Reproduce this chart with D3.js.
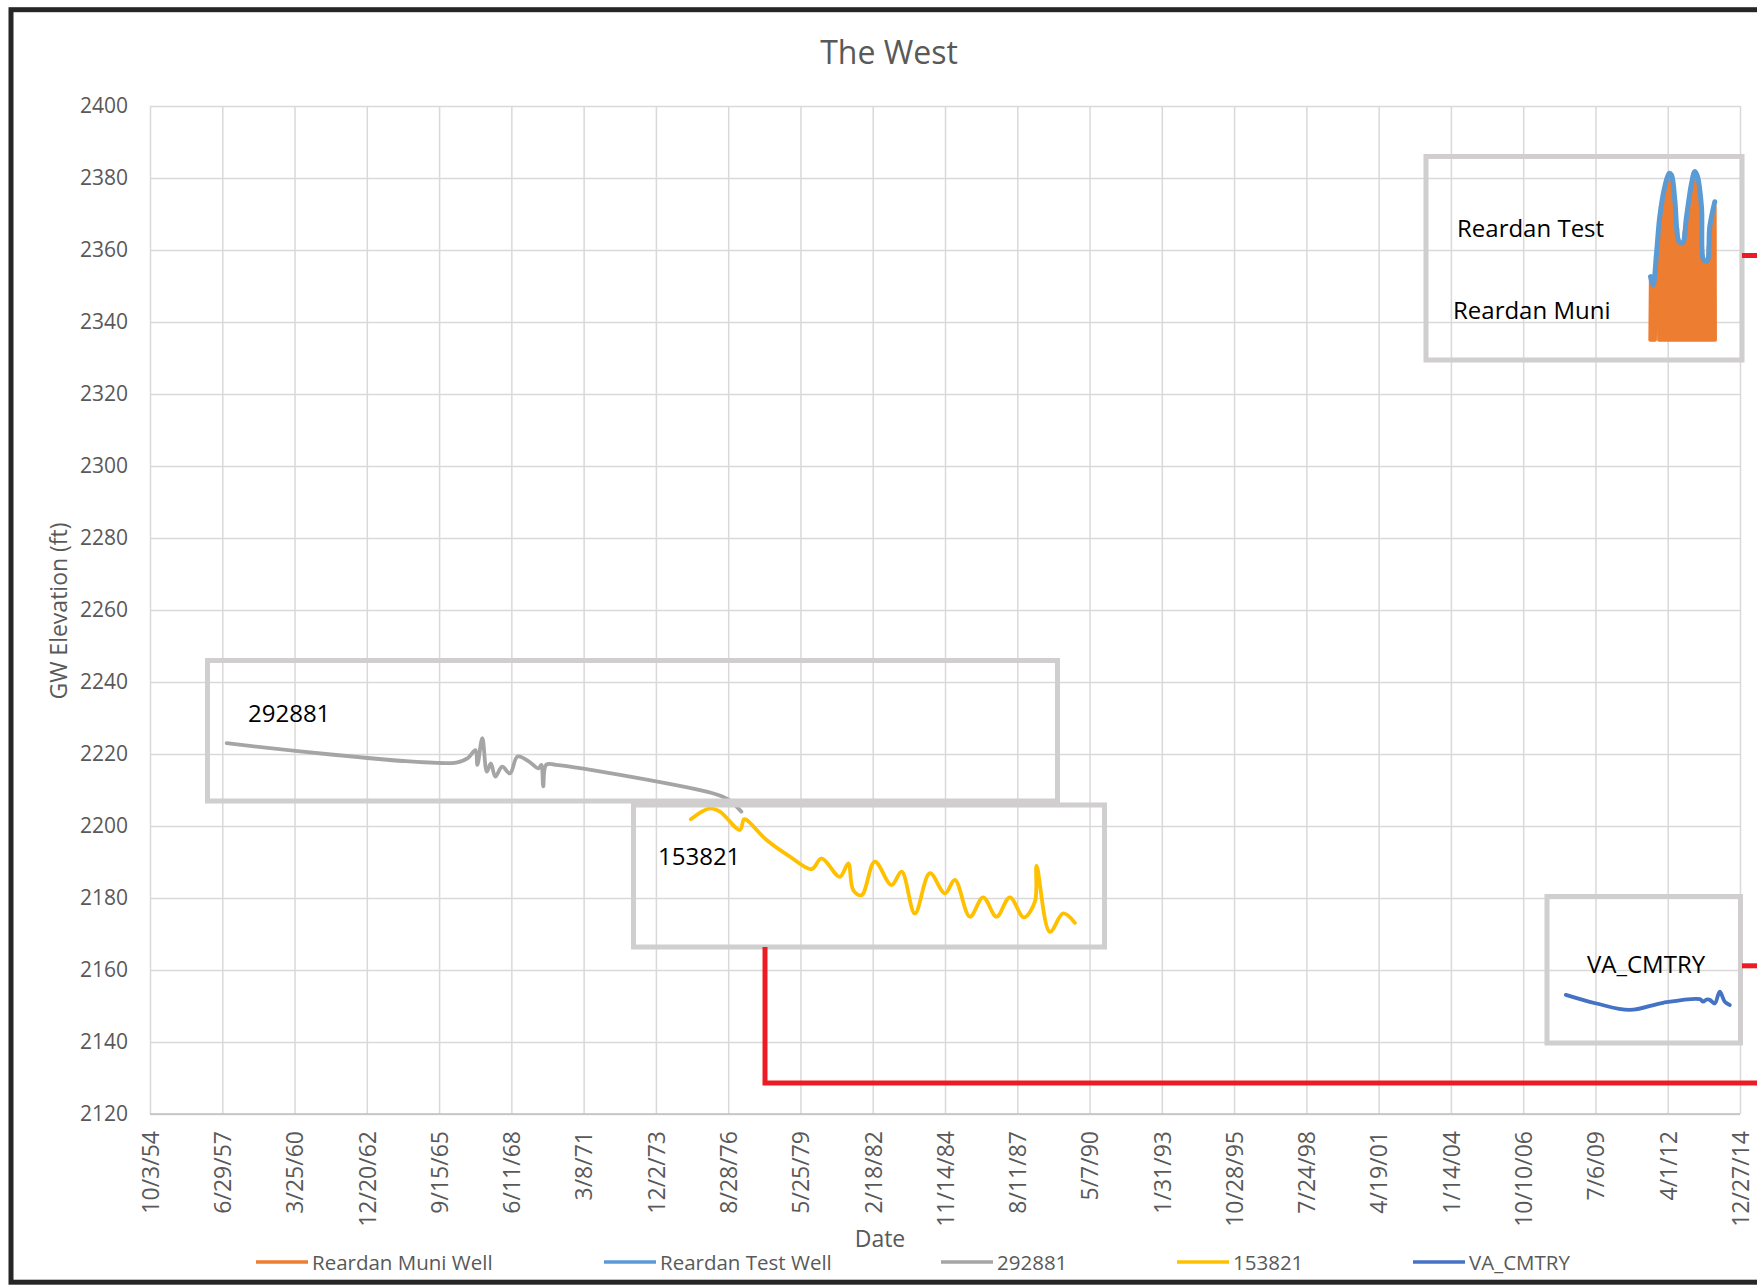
<!DOCTYPE html>
<html>
  <head>
    <meta charset="utf-8">
    <title>The West</title>
    <script src="https://d3js.org/d3.v7.min.js"></script>
    <style>
      body { margin: 0; background: #fff; }
      text { font-family: "Open Sans", sans-serif; }
    </style>
  </head>
  <body>
    <script>
    var w = 1757;
    var h = 1285;

    // axis ticks
    var xTickDates = ["1954-10-03", "1957-06-29", "1960-03-25", "1962-12-20", "1965-09-15",
      "1968-06-11", "1971-03-08", "1973-12-02", "1976-08-28", "1979-05-25", "1982-02-18",
      "1984-11-14", "1987-08-11", "1990-05-07", "1993-01-31", "1995-10-28", "1998-07-24",
      "2001-04-19", "2004-01-14", "2006-10-10", "2009-07-06", "2012-04-01", "2014-12-27"];
    var yTicks = [2120, 2140, 2160, 2180, 2200, 2220, 2240, 2260, 2280, 2300, 2320, 2340, 2360, 2380, 2400];

    var seriesNames = ["Reardan Muni Well", "Reardan Test Well", "292881", "153821", "VA_CMTRY"];
    var seriesColors = ["#ED7D31", "#5B9BD5", "#A5A5A5", "#FFC000", "#4472C4"];

    // readings: [date, GW elevation ft]
    var reardanMuni = [
      ["2011-08-01", 2335], ["2011-08-08", 2352], ["2011-08-18", 2335], ["2011-08-26", 2351.5],
      ["2011-09-05", 2335], ["2011-09-14", 2350], ["2011-09-24", 2335], ["2011-10-04", 2351],
      ["2011-10-10", 2335], ["2011-10-30", 2358], ["2011-11-20", 2364],
      ["2011-12-01", 2335], ["2011-12-15", 2368], ["2012-01-01", 2335], ["2012-01-15", 2373],
      ["2012-02-01", 2335], ["2012-02-15", 2376], ["2012-03-01", 2335], ["2012-03-15", 2378.5],
      ["2012-04-01", 2335], ["2012-04-15", 2380], ["2012-05-01", 2335], ["2012-05-15", 2380],
      ["2012-06-01", 2335], ["2012-06-15", 2376.5], ["2012-07-01", 2335], ["2012-07-15", 2372],
      ["2012-08-01", 2335], ["2012-08-15", 2366], ["2012-09-01", 2335], ["2012-09-15", 2361],
      ["2012-10-01", 2335], ["2012-10-15", 2361], ["2012-11-01", 2335], ["2012-11-15", 2365],
      ["2012-12-01", 2335], ["2012-12-15", 2368], ["2013-01-01", 2335], ["2013-01-15", 2373],
      ["2013-02-01", 2335], ["2013-02-15", 2377], ["2013-03-01", 2335], ["2013-03-15", 2379.5],
      ["2013-04-01", 2335], ["2013-04-15", 2380.5], ["2013-05-01", 2335], ["2013-05-15", 2379.5],
      ["2013-06-01", 2335], ["2013-06-15", 2375], ["2013-07-01", 2335], ["2013-07-15", 2370],
      ["2013-08-01", 2335], ["2013-08-15", 2356], ["2013-09-01", 2335], ["2013-09-15", 2356.5],
      ["2013-10-01", 2335], ["2013-10-15", 2361], ["2013-11-01", 2335], ["2013-11-15", 2366],
      ["2013-12-01", 2335], ["2013-12-15", 2370], ["2014-01-01", 2335], ["2014-01-14", 2372],
      ["2014-01-18", 2335]
    ];

    var reardanTest = [
      ["2011-08-07", 2352.6], ["2011-09-12", 2350.3], ["2011-10-29", 2359.1], ["2011-12-13", 2369.3],
      ["2012-02-21", 2377.6], ["2012-04-20", 2381.3], ["2012-05-23", 2380.8], ["2012-07-08", 2373.9],
      ["2012-09-06", 2362.3], ["2012-10-23", 2362.0], ["2012-12-17", 2369.3], ["2013-02-24", 2378.5],
      ["2013-04-11", 2381.8], ["2013-05-18", 2380.4], ["2013-07-12", 2372.0], ["2013-08-13", 2357.2],
      ["2013-09-28", 2357.0], ["2013-11-04", 2366.5], ["2014-01-12", 2373.4]
    ];

    var well292881 = [
      ["1957-08-29", 2223.0], ["1966-05-11", 2217.6], ["1966-10-19", 2218.9], ["1967-02-01", 2221.1],
      ["1967-02-27", 2217.0], ["1967-05-06", 2224.4], ["1967-07-08", 2215.1], ["1967-09-01", 2217.4],
      ["1967-11-02", 2213.7], ["1968-02-05", 2216.5], ["1968-05-22", 2214.6], ["1968-09-05", 2219.3],
      ["1969-02-11", 2217.9], ["1969-06-23", 2216.0], ["1969-07-31", 2217.0], ["1969-08-26", 2211.0],
      ["1969-10-06", 2217.0], ["1970-02-16", 2217.0], ["1976-01-27", 2209.1], ["1976-08-26", 2207.4],
      ["1977-02-26", 2204.0]
    ];

    var well153821 = [
      ["1975-03-29", 2201.9], ["1975-12-18", 2204.9], ["1976-05-06", 2204.0], ["1977-02-06", 2198.9],
      ["1977-04-03", 2201.9], ["1977-05-10", 2201.7], ["1978-02-11", 2196.1], ["1978-12-30", 2191.5],
      ["1979-10-26", 2188.0], ["1980-03-12", 2191.0], ["1980-11-20", 2185.9], ["1981-03-16", 2189.6],
      ["1981-05-24", 2182.2], ["1981-09-17", 2180.8], ["1982-03-19", 2190.1], ["1982-11-05", 2183.6],
      ["1983-03-25", 2187.3], ["1983-09-24", 2175.7], ["1984-04-19", 2186.9], ["1984-11-13", 2181.3],
      ["1985-03-31", 2185.0], ["1985-10-24", 2174.8], ["1986-04-26", 2180.2], ["1986-10-28", 2174.8],
      ["1987-04-30", 2180.2], ["1987-11-10", 2174.6], ["1988-04-11", 2179.0], ["1988-05-05", 2188.9],
      ["1988-11-04", 2170.6], ["1989-05-08", 2175.7], ["1989-10-16", 2173.1]
    ];

    var vaCmtry = [
      ["2008-05-22", 2153.1], ["2009-07-20", 2150.7], ["2010-10-24", 2148.9], ["2012-01-28", 2150.9],
      ["2013-06-19", 2151.9], ["2013-08-04", 2151.2], ["2013-09-20", 2151.8], ["2013-11-04", 2151.7],
      ["2014-01-12", 2150.7], ["2014-03-22", 2154.0], ["2014-05-31", 2151.2], ["2014-08-08", 2150.3]
    ];

    var parse = d3.utcParse("%Y-%m-%d");
    var fmt = d3.utcFormat("%-m/%-d/%y");

    var plotLeft = 150, plotRight = 1740, plotTop = 106, plotBottom = 1114;

    var x = d3.scaleUtc()
      .domain([parse(xTickDates[0]), parse(xTickDates[xTickDates.length - 1])])
      .range([plotLeft, plotRight]);
    var y = d3.scaleLinear()
      .domain([yTicks[0], yTicks[yTicks.length - 1]])
      .range([plotBottom, plotTop]);

    var svg = d3.select("body").append("svg")
      .attr("width", w)
      .attr("height", h);

    // gridlines + axes
    var yAxis = svg.append("g")
      .attr("transform", "translate(" + plotLeft + ",0)")
      .call(d3.axisLeft(y)
        .tickValues(yTicks)
        .tickFormat(d3.format("d"))
        .tickSize(-(plotRight - plotLeft))
        .tickPadding(22));
    yAxis.select(".domain").remove();
    yAxis.selectAll("line").attr("stroke", "#D9D9D9").attr("stroke-width", 1.5);
    yAxis.selectAll("text")
      .attr("fill", "#595959")
      .style("font-size", "21px")
      .style("font-family", "Open Sans");

    var xAxis = svg.append("g")
      .attr("transform", "translate(0," + plotBottom + ")")
      .call(d3.axisBottom(x)
        .tickValues(xTickDates.map(parse))
        .tickSize(-(plotBottom - plotTop))
        .tickFormat(fmt));
    xAxis.select(".domain").remove();
    xAxis.selectAll("line").attr("stroke", "#D9D9D9").attr("stroke-width", 1.5);
    xAxis.selectAll("text")
      .attr("transform", "rotate(-90)")
      .attr("text-anchor", "end")
      .attr("x", -17)
      .attr("y", 0)
      .attr("dy", "0.36em")
      .attr("fill", "#595959")
      .style("font-size", "23px")
      .style("font-family", "Open Sans");

    svg.append("line")
      .attr("x1", plotLeft).attr("x2", plotRight)
      .attr("y1", plotBottom).attr("y2", plotBottom)
      .attr("stroke", "#BFBFBF")
      .attr("stroke-width", 1.5);

    // series
    var smooth = d3.line()
      .x(function(d){ return x(parse(d[0])) })
      .y(function(d){ return y(d[1]) })
      .curve(d3.curveCatmullRom.alpha(0.5));
    var straight = d3.line()
      .x(function(d){ return x(parse(d[0])) })
      .y(function(d){ return y(d[1]) });

    var widths = [3.5, 5, 3.8, 3.8, 3.8];
    var allSeries = [reardanMuni, reardanTest, well292881, well153821, vaCmtry];
    allSeries.forEach(function(s, i){
      svg.append("path")
        .datum(s)
        .attr("d", i === 0 ? straight : smooth)
        .attr("fill", "none")
        .attr("stroke", seriesColors[i])
        .attr("stroke-width", widths[i])
        .attr("stroke-linejoin", "round")
        .attr("stroke-linecap", "round");
    });

    // callout shapes drawn on top of the chart
    var boxes = [
      {x: 1426, y: 156.5, w: 316, h: 203.5},
      {x: 207.5, y: 660.5, w: 850, h: 140.5},
      {x: 633.5, y: 805, w: 471, h: 142},
      {x: 1547, y: 896.5, w: 193.5, h: 146.5}
    ];
    svg.selectAll("rect.box")
      .data(boxes)
      .enter()
      .append("rect")
      .attr("class", "box")
      .attr("x", function(d){ return d.x })
      .attr("y", function(d){ return d.y })
      .attr("width", function(d){ return d.w })
      .attr("height", function(d){ return d.h })
      .attr("fill", "none")
      .attr("stroke", "#D0CECE")
      .attr("stroke-width", 5);

    var connectors = [
      [[765, 947], [765, 1083], [1765, 1083]],
      [[1742, 255.5], [1765, 255.5]],
      [[1742, 965.8], [1765, 965.8]]
    ];
    svg.selectAll("path.conn")
      .data(connectors)
      .enter()
      .append("path")
      .attr("class", "conn")
      .attr("d", d3.line())
      .attr("fill", "none")
      .attr("stroke", "#ED1C24")
      .attr("stroke-width", 5);

    var callouts = [
      {t: "Reardan Test", x: 1457, y: 237},
      {t: "Reardan Muni", x: 1453, y: 319},
      {t: "292881", x: 248, y: 722},
      {t: "153821", x: 658, y: 865},
      {t: "VA_CMTRY", x: 1587, y: 973}
    ];
    svg.selectAll("text.callout")
      .data(callouts)
      .enter()
      .append("text")
      .attr("class", "callout")
      .text(function(d){ return d.t })
      .attr("x", function(d){ return d.x })
      .attr("y", function(d){ return d.y })
      .attr("fill", "#000")
      .style("font-size", "24px");

    // titles
    svg.append("text")
      .text("The West")
      .attr("x", 889).attr("y", 64)
      .attr("text-anchor", "middle")
      .attr("fill", "#595959")
      .style("font-size", "32px");

    svg.append("text")
      .text("GW Elevation (ft)")
      .attr("transform", "translate(67,611) rotate(-90)")
      .attr("text-anchor", "middle")
      .attr("fill", "#595959")
      .style("font-size", "23px");

    svg.append("text")
      .text("Date")
      .attr("x", 880).attr("y", 1247)
      .attr("text-anchor", "middle")
      .attr("fill", "#595959")
      .style("font-size", "23px");

    // legend
    var legendX = [256, 604, 941, 1177, 1413];
    var legend = svg.selectAll("g.leg")
      .data(seriesNames)
      .enter()
      .append("g")
      .attr("class", "leg")
      .attr("transform", function(d, i){ return "translate(" + legendX[i] + ",1262)" });
    legend.append("line")
      .attr("x1", 0).attr("x2", 52)
      .attr("stroke", function(d, i){ return seriesColors[i] })
      .attr("stroke-width", 3.5);
    legend.append("text")
      .text(function(d){ return d })
      .attr("x", 56)
      .attr("y", 7.5)
      .attr("fill", "#595959")
      .style("font-size", "20.5px");

    // outer frame
    svg.append("rect")
      .attr("x", 11).attr("y", 9.7)
      .attr("width", 1800).attr("height", 1272.5)
      .attr("fill", "none")
      .attr("stroke", "#262626")
      .attr("stroke-width", 5);
    </script>
  </body>
</html>
